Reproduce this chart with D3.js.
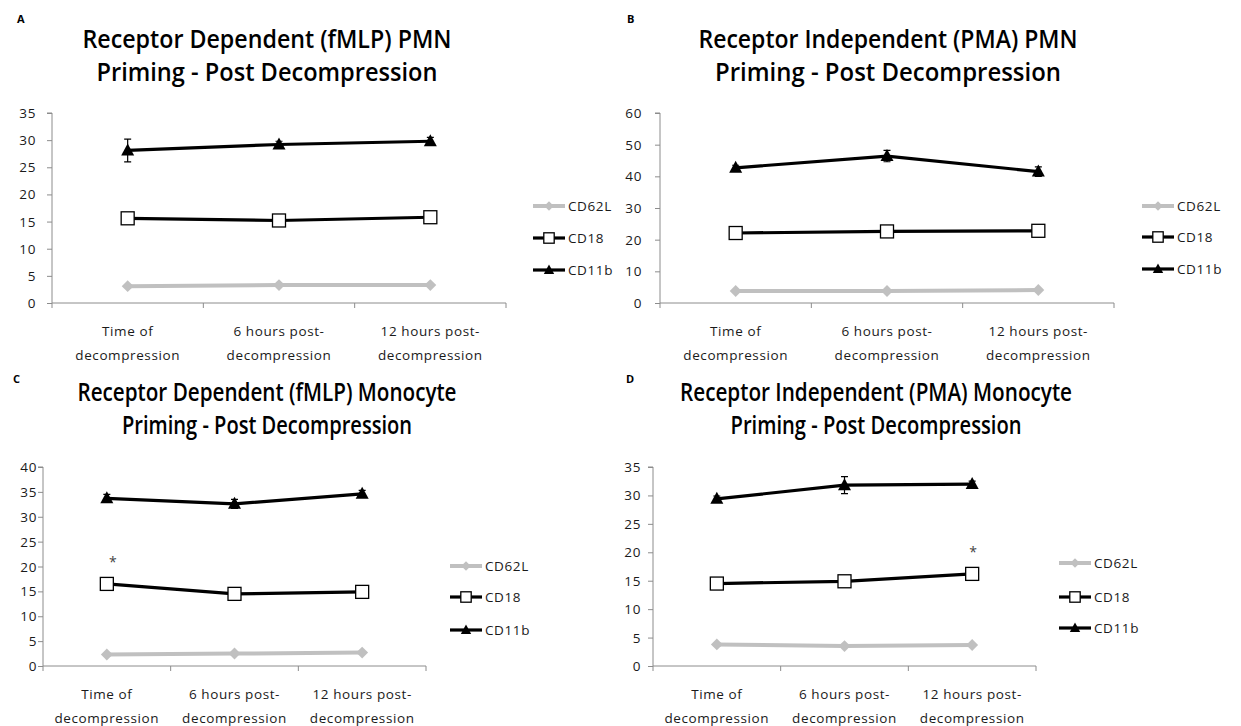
<!DOCTYPE html>
<html>
<head>
<meta charset="utf-8">
<script src="https://cdn.jsdelivr.net/npm/d3@7"></script>
<style>
  html, body { margin: 0; padding: 0; background: #fff; }
  svg { display: block; }
  text { font-family: "Open Sans", "Noto Sans", sans-serif; }
</style>
</head>
<body>
<svg id="chart" width="1241" height="726"></svg>
<script>
// ---------- DATA ----------
const categories = [["Time of", "decompression"], ["6 hours post-", "decompression"], ["12 hours post-", "decompression"]];
const seriesNames = ["CD62L", "CD18", "CD11b"];

const titlesA = ["Receptor Dependent (fMLP) PMN", "Priming - Post Decompression"];
const titlesB = ["Receptor Independent (PMA) PMN", "Priming - Post Decompression"];
const titlesC = ["Receptor Dependent (fMLP) Monocyte", "Priming - Post Decompression"];
const titlesD = ["Receptor Independent (PMA) Monocyte", "Priming - Post Decompression"];

const ticksA = [0, 5, 10, 15, 20, 25, 30, 35];
const ticksB = [0, 10, 20, 30, 40, 50, 60];
const ticksC = [0, 5, 10, 15, 20, 25, 30, 35, 40];
const ticksD = [0, 5, 10, 15, 20, 25, 30, 35];

const aCD62L = [3.1, 3.3, 3.3];
const aCD18  = [15.6, 15.2, 15.8];
const aCD11b = [28.1, 29.2, 29.8];
const aErrCD62L = [0.2, 0.2, 0.2];
const aErrCD18  = [0.7, 0.6, 0.6];
const aErrCD11b = [2.1, 0.6, 0.7];

const bCD62L = [3.8, 3.8, 4.1];
const bCD18  = [22.1, 22.6, 22.8];
const bCD11b = [42.7, 46.4, 41.5];
const bErrCD62L = [0.3, 0.3, 0.3];
const bErrCD18  = [0.5, 0.5, 0.5];
const bErrCD11b = [0.8, 1.8, 1.5];

const cCD62L = [2.3, 2.5, 2.7];
const cCD18  = [16.5, 14.5, 14.9];
const cCD11b = [33.7, 32.6, 34.6];
const cErrCD62L = [0.2, 0.2, 0.2];
const cErrCD18  = [0.6, 0.6, 0.6];
const cErrCD11b = [0.8, 0.9, 0.7];
const cSigCD18  = [1, 0, 0];

const dCD62L = [3.8, 3.5, 3.7];
const dCD18  = [14.5, 14.9, 16.2];
const dCD11b = [29.4, 31.8, 32.0];
const dErrCD62L = [0.2, 0.2, 0.2];
const dErrCD18  = [0.6, 0.6, 0.6];
const dErrCD11b = [0.5, 1.5, 0.5];
const dSigCD18  = [0, 0, 1];

// ---------- LAYOUT ----------
const panels = [
  { label: "A", lx: 17, ly: 23, titles: titlesA, tcx: 267, ty: 48, ticks: ticksA, max: 35,
    x0: 52, x1: 506, yTop: 113, yBot: 303, labR: 36, legX: 533, legY: [206, 238, 270],
    vals: [aCD62L, aCD18, aCD11b], errs: [aErrCD62L, aErrCD18, aErrCD11b], sig: null },
  { label: "B", lx: 627, ly: 23, titles: titlesB, tcx: 888, ty: 48, ticks: ticksB, max: 60,
    x0: 660, x1: 1114, yTop: 113, yBot: 303, labR: 642, legX: 1142, legY: [206, 237, 269],
    vals: [bCD62L, bCD18, bCD11b], errs: [bErrCD62L, bErrCD18, bErrCD11b], sig: null },
  { label: "C", lx: 13, ly: 383, titles: titlesC, tcx: 267, ty: 401, ticks: ticksC, max: 40,
    x0: 43, x1: 426, yTop: 467, yBot: 666, labR: 37, legX: 450, legY: [566, 597, 630],
    vals: [cCD62L, cCD18, cCD11b], errs: [cErrCD62L, cErrCD18, cErrCD11b], sig: cSigCD18, sigDx: 6 },
  { label: "D", lx: 626, ly: 383, titles: titlesD, tcx: 876, ty: 401, ticks: ticksD, max: 35,
    x0: 653, x1: 1036, yTop: 467, yBot: 666, labR: 641, legX: 1059, legY: [563, 597, 628],
    vals: [dCD62L, dCD18, dCD11b], errs: [dErrCD62L, dErrCD18, dErrCD11b], sig: dSigCD18, sigDx: 1 }
];
const titleWidths = { A: [369, 341], B: [379, 346], C: [379, 290], D: [392, 291] };

const styles = [
  { color: "#c0c0c0", width: 4, marker: "diamond" },
  { color: "#000000", width: 3.2, marker: "square" },
  { color: "#000000", width: 3.2, marker: "triangle" }
];
const axisColor = "#8c8c8c";
const textColor = "#1a1a1a";

const svg = d3.select("#chart");

function drawMarker(g, type, x, y, k) {
  if (type === "diamond") {
    g.append("path").attr("d", d3.symbol().type(d3.symbolDiamond2).size(90 * k * k)())
      .attr("transform", `translate(${x},${y})`)
      .attr("fill", "#c0c0c0");
  } else if (type === "square") {
    const h = 6.5 * k;
    g.append("rect").attr("x", x - h).attr("y", y - h).attr("width", 2 * h).attr("height", 2 * h)
      .attr("fill", "#fff").attr("stroke", "#000").attr("stroke-width", 1.3);
  } else {
    g.append("path").attr("d", `M${x},${y - 7 * k}L${x + 6.5 * k},${y + 5 * k}L${x - 6.5 * k},${y + 5 * k}Z`)
      .attr("fill", "#000");
  }
}

panels.forEach(p => {
  const g = svg.append("g");

  // panel label
  g.append("text").attr("x", p.lx).attr("y", p.ly).text(p.label)
    .attr("font-size", 11).attr("font-weight", "bold").attr("fill", "#000")
    .attr("font-family", "Liberation Sans, sans-serif");

  // titles
  p.titles.forEach((t, i) => {
    g.append("text").attr("x", p.tcx).attr("y", p.ty + i * 33).text(t)
      .attr("text-anchor", "middle").attr("font-size", 25).attr("font-weight", 600)
      .attr("fill", "#000")
      .attr("textLength", titleWidths[p.label][i]).attr("lengthAdjust", "spacingAndGlyphs");
  });

  const x = d3.scaleBand().domain(d3.range(categories.length)).range([p.x0, p.x1]);
  const y = d3.scaleLinear().domain([0, p.max]).range([p.yBot, p.yTop]);
  const cx = i => x(i) + x.bandwidth() / 2;

  // y axis
  const yAxis = d3.axisLeft(y).tickValues(p.ticks).tickSize(5).tickFormat(d3.format("d"));
  const ya = g.append("g").attr("transform", `translate(${p.x0},0)`).call(yAxis);
  ya.selectAll("path,line").attr("stroke", axisColor);
  ya.select(".domain").attr("d", `M-5,${p.yTop}H0V${p.yBot}`);
  ya.selectAll("text").remove();
  p.ticks.forEach(t => {
    g.append("text").attr("x", p.labR).attr("y", y(t) + 5).text(t)
      .attr("text-anchor", "end").attr("font-size", 13.5).attr("fill", textColor)
      .attr("letter-spacing", 0.6);
  });

  // x axis
  const xa = g.append("g").attr("transform", `translate(0,${p.yBot})`);
  xa.append("line").attr("x1", p.x0).attr("x2", p.x1).attr("y1", 0).attr("y2", 0).attr("stroke", axisColor);
  const bounds = d3.range(categories.length).map(i => x(i)).concat([p.x1]);
  xa.selectAll("line.tk").data(bounds).join("line").attr("class", "tk")
    .attr("x1", d => d).attr("x2", d => d).attr("y1", 0).attr("y2", 5).attr("stroke", axisColor);
  categories.forEach((c, i) => {
    c.forEach((line, j) => {
      xa.append("text").attr("x", cx(i)).attr("y", 33 + j * 24).text(line)
        .attr("text-anchor", "middle").attr("font-size", 13.5).attr("fill", textColor)
        .attr("letter-spacing", 0.6);
    });
  });

  // series
  const lineGen = d3.line().x((d, i) => cx(i)).y(d => y(d));
  p.vals.forEach((vals, s) => {
    const st = styles[s];
    g.append("path").attr("d", lineGen(vals)).attr("fill", "none")
      .attr("stroke", st.color).attr("stroke-width", st.width).attr("stroke-linejoin", "round");
    // error bars
    vals.forEach((v, i) => {
      const e = p.errs[s][i];
      const px = cx(i);
      g.append("path")
        .attr("d", `M${px},${y(v - e)}V${y(v + e)}M${px - 3.5},${y(v + e)}H${px + 3.5}M${px - 3.5},${y(v - e)}H${px + 3.5}`)
        .attr("stroke", s === 0 ? "#a0a0a0" : "#000").attr("stroke-width", 1.2).attr("fill", "none");
    });
    vals.forEach((v, i) => drawMarker(g, st.marker, cx(i), y(v), 1));
    if (s === 1 && p.sig) {
      p.sig.forEach((flag, i) => {
        if (flag) {
          g.append("text").attr("x", cx(i) + p.sigDx).attr("y", y(vals[i]) - 17).text("*")
            .attr("text-anchor", "middle").attr("font-size", 14).attr("fill", "#444");
        }
      });
    }
  });

  // legend
  seriesNames.forEach((name, s) => {
    const st = styles[s];
    const ly = p.legY[s];
    g.append("line").attr("x1", p.legX).attr("x2", p.legX + 32).attr("y1", ly).attr("y2", ly)
      .attr("stroke", st.color).attr("stroke-width", st.width);
    drawMarker(g, st.marker, p.legX + 16, ly, 0.8);
    g.append("text").attr("x", p.legX + 35).attr("y", ly + 5).text(name)
      .attr("font-size", 13.5).attr("fill", textColor).attr("letter-spacing", 0.6);
  });
});
</script>
</body>
</html>
